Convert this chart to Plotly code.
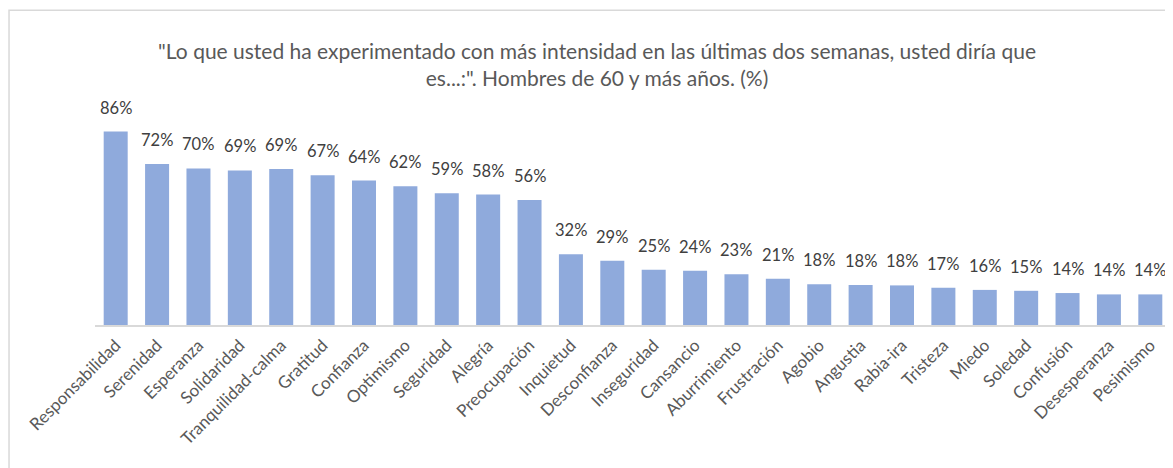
import plotly.graph_objects as go

categories = ["Responsabilidad", "Serenidad", "Esperanza", "Solidaridad", "Tranquilidad-calma",
              "Gratitud", "Confianza", "Optimismo", "Seguridad", "Alegría", "Preocupación",
              "Inquietud", "Desconfianza", "Inseguridad", "Cansancio", "Aburrimiento",
              "Frustración", "Agobio", "Angustia", "Rabia-ira", "Tristeza", "Miedo",
              "Soledad", "Confusión", "Desesperanza", "Pesimismo"]
values = [86.0, 71.6, 69.6, 68.7, 69.3, 66.6, 64.2, 61.7, 58.6, 58.0, 55.6,
          31.5, 28.6, 24.6, 24.1, 22.6, 20.6, 18.1, 17.8, 17.6, 16.6, 15.6,
          15.2, 14.2, 13.6, 13.6]
labels = [f"{round(v)}%" for v in values]
title_text = ('"Lo que usted ha experimentado con más intensidad en las últimas dos semanas, usted diría que'
              '<br>es...:". Hombres de 60 y más años. (%)')

FONT = "Lato"

fig = go.Figure()
fig.add_trace(go.Bar(
    x=categories, y=values,
    marker=dict(color="#8FAADC", line=dict(width=0)),
    hoverinfo="x+y",
))

for c, v, t in zip(categories, values, labels):
    fig.add_annotation(x=c, y=v, text=t, showarrow=False, yanchor="bottom",
                       yshift=12, font=dict(family=FONT, size=16.5, color="#404040"))

fig.update_layout(
    width=1165, height=460,
    margin=dict(l=87, r=2, t=92, b=142.5),
    paper_bgcolor="white", plot_bgcolor="white",
    bargap=0.42,
    showlegend=False,
    title=dict(text=title_text, x=0.5056, xref="container", xanchor="center",
               y=0.889, yanchor="middle",
               font=dict(family=FONT, size=21, color="#595959")),
    xaxis=dict(showgrid=False, showline=True, linecolor="#D9D9D9", linewidth=1.5,
               ticks="", tickangle=-45, ticklabelstandoff=2,
               tickfont=dict(family=FONT, size=17, color="#595959")),
    yaxis=dict(range=[0, 100], showgrid=False, showticklabels=False, zeroline=False,
               showline=False, ticks=""),
    shapes=[dict(type="rect", xref="paper", yref="paper",
                 x0=-0.0799, x1=1.05, y0=-1.0, y1=1.399,
                 line=dict(color="#D9D9D9", width=1.5), fillcolor="rgba(0,0,0,0)",
                 layer="below")],
)

fig.write_html("out.html")
